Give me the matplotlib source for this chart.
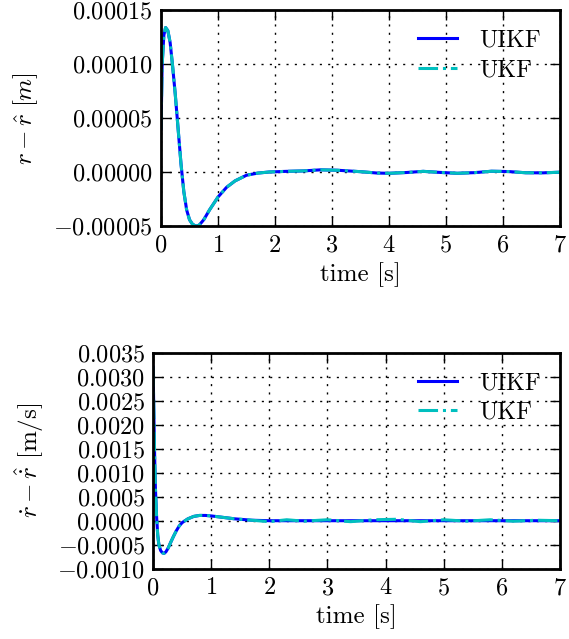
import matplotlib
matplotlib.use("Agg")
import matplotlib.pyplot as plt
from matplotlib.ticker import ScalarFormatter

plt.rcParams["font.family"] = "serif"
plt.rcParams["font.serif"] = ["cmr10"]
plt.rcParams["mathtext.fontset"] = "cm"
plt.rcParams["axes.formatter.use_mathtext"] = True
plt.rcParams["axes.unicode_minus"] = True
plt.rcParams["font.size"] = 17.5

# position error r - r_hat
t_pos = [0.0, 0.02, 0.05, 0.08, 0.12, 0.16, 0.2, 0.25, 0.3, 0.35, 0.4, 0.45, 0.5,
         0.55, 0.61, 0.67, 0.75, 0.85, 1.0, 1.15, 1.3, 1.5, 1.7, 1.9, 2.2, 2.5,
         2.8, 3.1, 3.5, 3.8, 4.0, 4.3, 4.6, 4.9, 5.2, 5.5, 5.8, 6.1, 6.4, 6.7, 7.0]
uikf_pos = [0.00004, 0.0001, 0.000127, 0.000134, 0.000131, 0.00012, 0.0001, 0.000072,
            0.00004, 0.000008, -0.000018, -0.000035, -0.000044, -0.000048, -0.00005,
            -0.000049, -0.000044, -0.000035, -0.000023, -0.000014, -0.000008,
            -0.0000028, -0.0000008, 0.0000002, 0.0000008, 0.0000012, 0.0000022,
            0.0000018, 0.0000005, -0.0000008, -0.000001, -0.0000003, 0.0000008,
            -0.0000002, -0.000001, -0.0000004, 0.0000009, 0.0000006, -0.0000005,
            -0.0000006, 0.0]
ukf_pos = [0.00004, 0.0001, 0.000127, 0.000134, 0.000131, 0.00012, 0.0001, 0.000072,
           0.00004, 0.000008, -0.000018, -0.000035, -0.000044, -0.000048, -0.00005,
           -0.000049, -0.000044, -0.000035, -0.000023, -0.000014, -0.000008,
           -0.0000028, -0.0000008, 0.0000002, 0.0000008, 0.0000012, 0.0000022,
           0.0000018, 0.0000005, -0.0000008, -0.000001, -0.0000003, 0.0000008,
           -0.0000002, -0.000001, -0.0000004, 0.0000009, 0.0000006, -0.0000005,
           -0.0000006, 0.0]

# velocity error
t_vel = [0.0, 0.01, 0.02, 0.03, 0.04, 0.06, 0.08, 0.1, 0.13, 0.16, 0.19, 0.22, 0.26,
         0.3, 0.35, 0.4, 0.45, 0.5, 0.6, 0.7, 0.8, 0.9, 1.0, 1.2, 1.4, 1.7, 2.0,
         2.3, 2.6, 3.0, 3.4, 3.8, 4.2, 4.6, 5.0, 5.4, 5.8, 6.2, 6.6, 7.0]
uikf_vel = [0.0032, 0.0025, 0.0018, 0.0012, 0.0007, 0.0001, -0.0003, -0.0005,
            -0.00062, -0.00067, -0.00068, -0.00065, -0.00057, -0.00046, -0.00033,
            -0.00021, -0.00011, -0.00004, 0.00004, 0.00009, 0.00011, 0.00011,
            0.0001, 0.00007, 0.00004, 0.00001, 0.0, 0.0, 0.0, 0.0, 0.0, 0.0, 0.0,
            0.0, 0.0, 0.0, 0.0, 0.0, 0.0, 0.0]
ukf_vel = [0.0032, 0.0025, 0.0018, 0.0012, 0.0007, 0.0001, -0.0003, -0.0005,
           -0.00062, -0.00067, -0.00068, -0.00065, -0.00057, -0.00046, -0.00033,
           -0.00021, -0.00011, -0.00004, 0.00004, 0.00009, 0.00011, 0.00011,
           0.0001, 0.00007, 0.00004, 0.00001, -0.00002, 0.00002, -0.00001, 0.00002,
           -0.00002, 0.00002, 0.00003, -0.00002, 0.00002, -0.00001, 0.00002,
           -0.00001, 0.00001, 0.0]

x_ticks = [0, 1, 2, 3, 4, 5, 6, 7]


def style_axes(ax):
    ax.grid(True, color="black", linestyle=(0, (1.5, 4.5)), linewidth=1.0)
    ax.tick_params(direction="in", top=True, right=True, length=7, width=1, pad=6)
    for s in ax.spines.values():
        s.set_linewidth(2)
    fmt = ScalarFormatter(useOffset=False, useMathText=True)
    fmt.set_scientific(False)
    ax.yaxis.set_major_formatter(fmt)
    ax.set_xlim(0, 7)
    ax.set_xticks(x_ticks)
    ax.set_xlabel("time [s]", fontsize=18)
    ax.legend(loc="upper right", frameon=False, handlelength=1.6,
              handletextpad=0.9, labelspacing=0.3, borderaxespad=0.4)


fig = plt.figure(figsize=(5.69, 6.39), dpi=100)
fig.patch.set_facecolor("white")

ax1 = fig.add_axes([0.283, 0.646, 0.701, 0.338])
ax1.plot(t_pos, uikf_pos, color="blue", linewidth=2.2, label="UIKF")
ax1.plot(t_pos, ukf_pos, color="c", linestyle="-.", linewidth=2.2, label="UKF")
ax1.set_ylim(-0.00005, 0.00015)
ax1.set_yticks([-0.00005, 0.0, 0.00005, 0.0001, 0.00015])
ax1.set_ylabel(r"$r-\hat{r}\ [m]$", fontsize=18, labelpad=10)
style_axes(ax1)

ax2 = fig.add_axes([0.269, 0.110, 0.715, 0.338])
ax2.plot(t_vel, uikf_vel, color="blue", linewidth=2.2, label="UIKF")
ax2.plot(t_vel, ukf_vel, color="c", linestyle="-.", linewidth=2.2, label="UKF")
ax2.set_ylim(-0.001, 0.0035)
ax2.set_yticks([-0.001, -0.0005, 0.0, 0.0005, 0.001, 0.0015, 0.002, 0.0025,
                0.003, 0.0035])
ax2.set_ylabel(r"$\dot{r}-\hat{\dot{r}}$ [m/s]", fontsize=18, labelpad=8)
style_axes(ax2)

fig.savefig("out.png", dpi=100, facecolor="white")
